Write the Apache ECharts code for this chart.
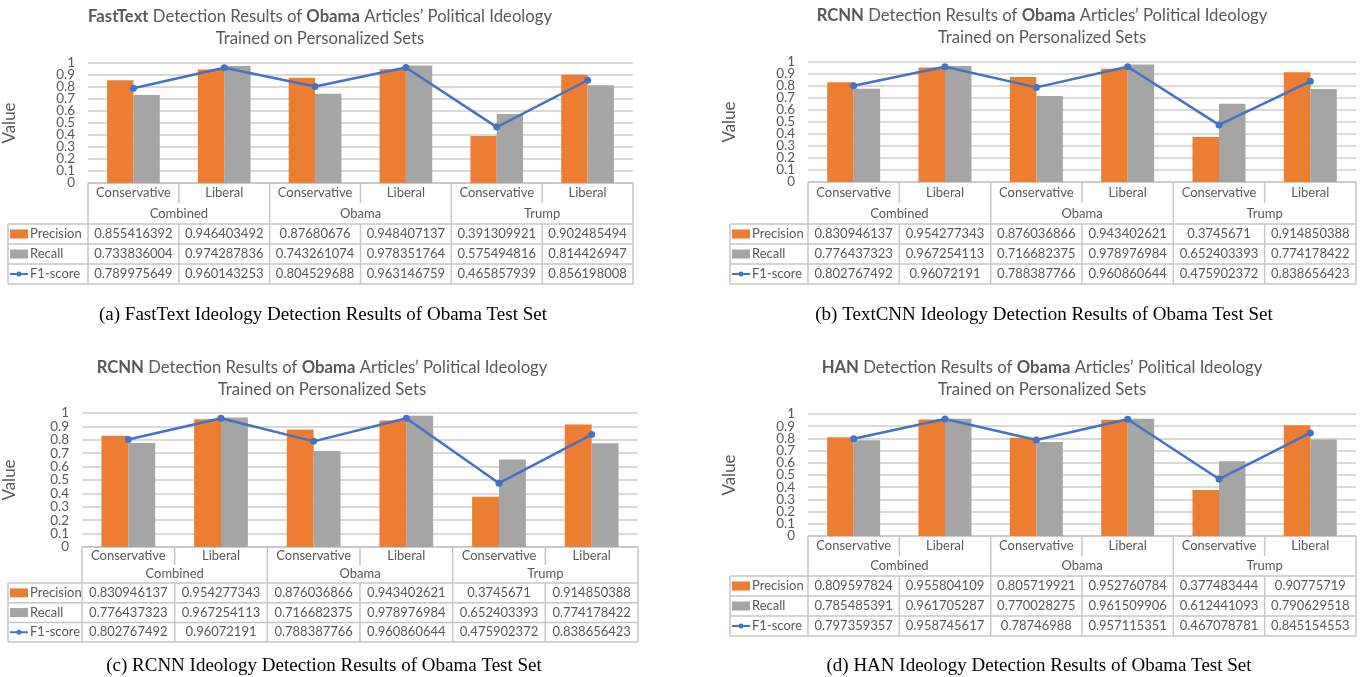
<!DOCTYPE html>
<html><head><meta charset="utf-8">
<script src="https://cdn.jsdelivr.net/npm/echarts@6/dist/echarts.min.js"></script>
<style>html,body{margin:0;padding:0;background:#fff}#c{width:1364px;height:677px}</style>
</head><body><div id="c"></div>
<script>
// ---------- data ----------
const categories = ['Conservative', 'Liberal', 'Conservative', 'Liberal', 'Conservative', 'Liberal'];
const groups = ['Combined', 'Obama', 'Trump'];
const metricNames = ['Precision', 'Recall', 'F1-score'];
const yTickLabels = ['0', '0.1', '0.2', '0.3', '0.4', '0.5', '0.6', '0.7', '0.8', '0.9', '1'];
const modelTitles = ['FastText', 'RCNN', 'RCNN', 'HAN'];
const captions = [
  '(a) FastText Ideology Detection Results of Obama Test Set',
  '(b) TextCNN Ideology Detection Results of Obama Test Set',
  '(c) RCNN Ideology Detection Results of Obama Test Set',
  '(d) HAN Ideology Detection Results of Obama Test Set'
];

const fastTextPrecision = [0.855416392, 0.946403492, 0.87680676, 0.948407137, 0.391309921, 0.902485494];
const fastTextRecall    = [0.733836004, 0.974287836, 0.743261074, 0.978351764, 0.575494816, 0.814426947];
const fastTextF1        = [0.789975649, 0.960143253, 0.804529688, 0.963146759, 0.465857939, 0.856198008];

const textCnnPrecision = [0.830946137, 0.954277343, 0.876036866, 0.943402621, 0.3745671, 0.914850388];
const textCnnRecall    = [0.776437323, 0.967254113, 0.716682375, 0.978976984, 0.652403393, 0.774178422];
const textCnnF1        = [0.802767492, 0.96072191, 0.788387766, 0.960860644, 0.475902372, 0.838656423];

const rcnnPrecision = [0.830946137, 0.954277343, 0.876036866, 0.943402621, 0.3745671, 0.914850388];
const rcnnRecall    = [0.776437323, 0.967254113, 0.716682375, 0.978976984, 0.652403393, 0.774178422];
const rcnnF1        = [0.802767492, 0.96072191, 0.788387766, 0.960860644, 0.475902372, 0.838656423];

const hanPrecision = [0.809597824, 0.955804109, 0.805719921, 0.952760784, 0.377483444, 0.90775719];
const hanRecall    = [0.785485391, 0.961705287, 0.770028275, 0.961509906, 0.612441093, 0.790629518];
const hanF1        = [0.797359357, 0.958745617, 0.78746988, 0.957115351, 0.467078781, 0.845154553];

const panelData = [
  [fastTextPrecision, fastTextRecall, fastTextF1],
  [textCnnPrecision, textCnnRecall, textCnnF1],
  [rcnnPrecision, rcnnRecall, rcnnF1],
  [hanPrecision, hanRecall, hanF1]
];

// ---------- layout ----------
const FONT = 'Lato';
const TXT = '#595959';
const BORDER = '#c6c6c6';
const COLORS = ['#ED7D31', '#A5A5A5', '#4472C4'];
const layouts = [
  {gx0: 87, gx1: 633, gy1: 63, gy0: 183, lx: 8, hMid: 203, hBot: 224, rowH: 20, titleX: 320, titleY: 17, capX: 323, capY: 315, nameX: 17},
  {gx0: 808, gx1: 1356, gy1: 62, gy0: 182, lx: 730, hMid: 203, hBot: 224, rowH: 20, titleX: 1042, titleY: 16, capX: 1044, capY: 315, nameX: 738},
  {gx0: 79, gx1: 638, gy1: 413, gy0: 547, lx: 8, hMid: 565, hBot: 583, rowH: 19.7, titleX: 322, titleY: 368, capX: 324, capY: 666, nameX: 15},
  {gx0: 808, gx1: 1356, gy1: 414, gy0: 536, lx: 730, hMid: 556, hBot: 576, rowH: 20, titleX: 1042, titleY: 368, capX: 1039, capY: 666, nameX: 738}
];

const chart = echarts.init(document.getElementById('c'), null, {renderer: 'canvas'});

const grid = [], xAxis = [], yAxis = [], series = [];
layouts.forEach((L, i) => {
  grid.push({left: L.gx0, top: L.gy1, width: L.gx1 - L.gx0, height: L.gy0 - L.gy1});
  xAxis.push({type: 'category', gridIndex: i, data: categories,
    axisLine: {show: false}, axisTick: {show: false}, axisLabel: {show: false}});
  yAxis.push({type: 'value', gridIndex: i, min: 0, max: 1, interval: 0.1,
    name: 'Value', nameLocation: 'middle', nameGap: L.gx0 - L.nameX, nameRotate: 90,
    nameTextStyle: {fontSize: 17, color: TXT, fontFamily: FONT},
    axisLabel: {show: false},
    axisLine: {show: false}, axisTick: {show: false},
    splitLine: {lineStyle: {color: '#cccccc', width: 1.5}}});
  const d = panelData[i];
  series.push({type: 'bar', name: metricNames[0], xAxisIndex: i, yAxisIndex: i, data: d[0],
    itemStyle: {color: COLORS[0]}, barGap: '0%', barCategoryGap: '42%'});
  series.push({type: 'bar', name: metricNames[1], xAxisIndex: i, yAxisIndex: i, data: d[1],
    itemStyle: {color: COLORS[1]}, barGap: '0%', barCategoryGap: '42%'});
  series.push({type: 'line', name: metricNames[2], xAxisIndex: i, yAxisIndex: i, data: d[2],
    itemStyle: {color: COLORS[2]}, lineStyle: {color: COLORS[2], width: 2.5},
    symbol: 'circle', symbolSize: 7, z: 5});
});

chart.setOption({animation: false, grid, xAxis, yAxis, series});

// ---------- tick labels, titles, tables, captions (positions derived from the axes) ----------
const graphic = [];
function line(x1, y1, x2, y2) {
  graphic.push({type: 'line', silent: true, shape: {x1, y1, x2, y2}, style: {stroke: BORDER, lineWidth: 1.5}});
}
function text(x, y, t, opt) {
  graphic.push({type: 'text', silent: true, x, y, style: Object.assign({text: t, fill: TXT, fontFamily: FONT, fontSize: 13, align: 'center', verticalAlign: 'middle'}, opt || {})});
}
layouts.forEach((L, i) => {
  // y tick labels
  const axisX = chart.convertToPixel({xAxisIndex: i}, 0) - (chart.convertToPixel({xAxisIndex: i}, 1) - chart.convertToPixel({xAxisIndex: i}, 0)) / 2;
  yTickLabels.forEach(lbl => {
    text(axisX - 13, chart.convertToPixel({yAxisIndex: i}, Number(lbl)), lbl, {align: 'right', fontSize: 13.5});
  });
  // title
  text(L.titleX, L.titleY, '{b|' + modelTitles[i] + '} Detection Results of {b|Obama} Articles\u2019 Political Ideology',
    {fontSize: 16.7, rich: {b: {fontWeight: 'bold', fontSize: 16.7, fontFamily: FONT, fill: TXT}}});
  text(L.titleX, L.titleY + 22, 'Trained on Personalized Sets', {fontSize: 16.7});
  // caption
  text(L.capX, L.capY, captions[i], {fontFamily: 'Liberation Serif', fontSize: 19, fill: '#000'});

  const c0 = chart.convertToPixel({xAxisIndex: i}, 0);
  const c1 = chart.convertToPixel({xAxisIndex: i}, 1);
  const band = c1 - c0;
  const y0 = chart.convertToPixel({yAxisIndex: i}, 0);
  const bx = k => c0 - band / 2 + k * band;
  const right = bx(6);
  // header
  line(bx(0), y0, right, y0);
  for (let k = 0; k <= 6; k++) line(bx(k), y0, bx(k), k % 2 === 0 ? L.hBot : L.hMid);
  categories.forEach((c, k) => text(bx(k) + band / 2, (y0 + L.hMid) / 2, c));
  groups.forEach((g, k) => text(bx(2 * k) + band, (L.hMid + L.hBot) / 2, g));
  // data rows
  for (let r = 0; r <= 3; r++) line(L.lx, L.hBot + r * L.rowH, right, L.hBot + r * L.rowH);
  const yEnd = L.hBot + 3 * L.rowH;
  line(L.lx, L.hBot, L.lx, yEnd);
  for (let k = 0; k <= 6; k++) line(bx(k), L.hBot, bx(k), yEnd);
  panelData[i].forEach((vals, r) => {
    const cy = L.hBot + (r + 0.5) * L.rowH;
    vals.forEach((v, k) => text(bx(k) + band / 2, cy, String(v)));
    // legend key
    const kx = L.lx + 2;
    if (r < 2) {
      graphic.push({type: 'rect', silent: true, shape: {x: kx, y: cy - 4.5, width: 18, height: 9}, style: {fill: COLORS[r]}});
    } else {
      graphic.push({type: 'line', silent: true, shape: {x1: kx, y1: cy, x2: kx + 18, y2: cy}, style: {stroke: COLORS[2], lineWidth: 2}});
      graphic.push({type: 'circle', silent: true, shape: {cx: kx + 9, cy, r: 2.5}, style: {fill: COLORS[2]}});
    }
    text(kx + 20, cy, metricNames[r], {align: 'left'});
  });
});
chart.setOption({graphic});
</script>
</body></html>
